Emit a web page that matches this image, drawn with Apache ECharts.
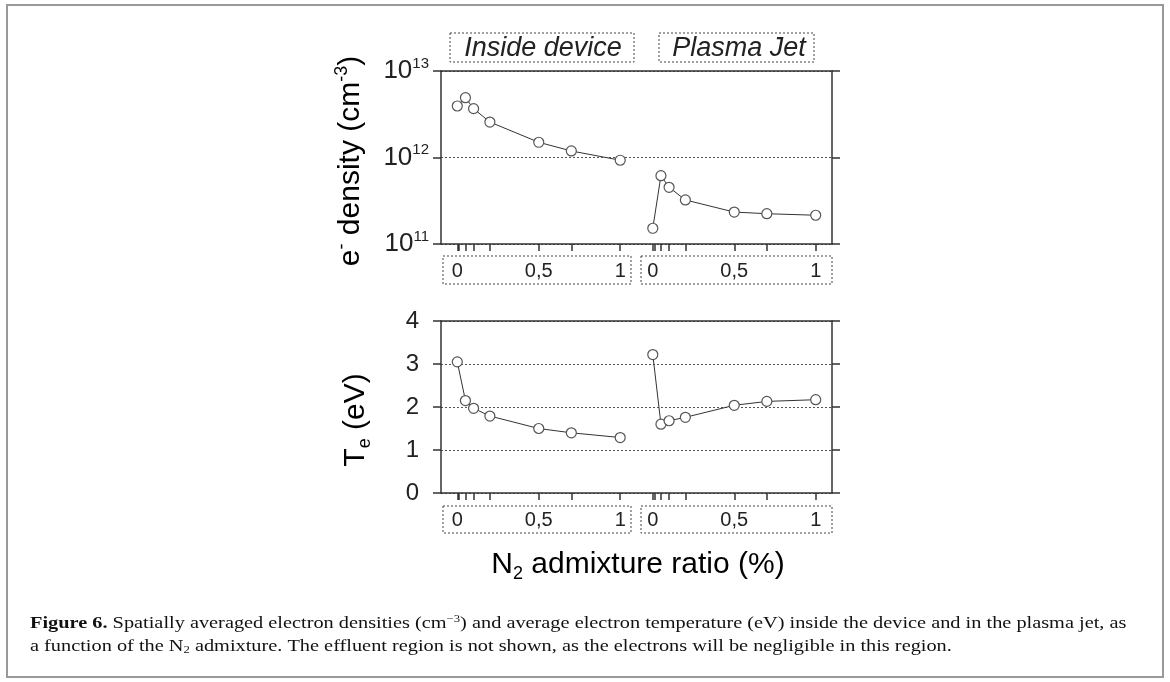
<!DOCTYPE html>
<html><head><meta charset="utf-8">
<script src="https://cdn.jsdelivr.net/npm/echarts@6/dist/echarts.min.js"></script>
<style>html,body{margin:0;padding:0;background:#fff}#c{width:1170px;height:682px}</style>
</head><body><div id="c"></div>
<script>
// ---- data ----
const xRatio = [0, 0.05, 0.1, 0.2, 0.5, 0.7, 1];
const densityInside = [3.94e12, 4.91e12, 3.67e12, 2.57e12, 1.50e12, 1.19e12, 0.93e12];
const densityJet = [1.52e11, 6.16e11, 4.52e11, 3.23e11, 2.34e11, 2.24e11, 2.15e11];
const teInside = [3.05, 2.15, 1.97, 1.79, 1.50, 1.40, 1.29];
const teJet = [3.22, 1.60, 1.68, 1.76, 2.04, 2.13, 2.17];
const xTickValues = [0, 0.01, 0.05, 0.1, 0.2, 0.5, 0.7, 1];
const xLabelValues = [0, 0.5, 1];
const densityTicks = [1e11, 1e12, 1e13];
const teTicks = [0, 1, 2, 3, 4];
const regionNames = ['Inside device', 'Plasma Jet'];

// ---- helpers ----
const SANS = '"Liberation Sans", Arial, sans-serif';
const SERIF = '"Liberation Serif", serif';
const AX = '#333';
const pairs = (xs, ys) => xs.map((x, i) => [x, ys[i]]);
const fmtX = v => String(v).replace('.', ',');

function xAxes(grid, minA, maxA, minB, maxB, margin) {
  const base = {
    gridIndex: grid, type: 'value', position: 'bottom',
    splitLine: { show: false },
    axisLine: { onZero: false, lineStyle: { color: AX, width: 1.5 } },
    axisTick: { show: true, inside: false, length: 7, customValues: xTickValues, lineStyle: { color: AX, width: 1.5 } },
    axisLabel: { show: true, customValues: xLabelValues, formatter: fmtX, margin: margin,
      fontFamily: SANS, fontSize: 20, color: '#222' }
  };
  return [
    Object.assign({}, base, { min: minA, max: maxA }),
    Object.assign({}, base, { min: minB, max: maxB, axisLine: { show: false, onZero: false } }),
    { gridIndex: grid, type: 'value', position: 'top', min: 0, max: 1,
      axisLine: { onZero: false, lineStyle: { color: AX, width: 1.5 } },
      axisTick: { show: false }, axisLabel: { show: false }, splitLine: { show: false } }
  ];
}

const ySplit = { show: true, lineStyle: { color: '#555', width: 1, type: [2, 2] } };

const option = {
  animation: false,
  backgroundColor: '#fff',
  grid: [
    { left: 441, top: 71, width: 391, height: 173 },
    { left: 441, top: 321, width: 391, height: 172 }
  ],
  xAxis: [
    ...xAxes(0, -0.1, 2.3, -1.3, 1.1, 17),
    ...xAxes(1, -0.1, 2.3, -1.3, 1.1, 17)
  ],
  yAxis: [
    { gridIndex: 0, type: 'log', logBase: 10, min: densityTicks[0], max: densityTicks[densityTicks.length - 1],
      position: 'left',
      axisLine: { show: true, onZero: false, lineStyle: { color: AX, width: 1.5 } },
      axisTick: { show: true, length: 8, lineStyle: { color: AX, width: 1.5 } },
      minorTick: { show: false },
      splitLine: ySplit,
      axisLabel: { margin: 12, fontFamily: SANS, color: '#222',
        formatter: v => '{b|10}{s|' + Math.round(Math.log10(v)) + '}',
        rich: { b: { fontSize: 26, fontFamily: SANS, color: '#222', lineHeight: 30 },
                s: { fontSize: 15, fontFamily: SANS, color: '#222', lineHeight: 15, verticalAlign: 'top' } } } },
    { gridIndex: 0, type: 'log', logBase: 10, min: densityTicks[0], max: densityTicks[densityTicks.length - 1],
      position: 'right',
      axisLine: { show: true, onZero: false, lineStyle: { color: AX, width: 1.5 } },
      axisTick: { show: true, length: 8, lineStyle: { color: AX, width: 1.5 } },
      splitLine: { show: false }, axisLabel: { show: false } },
    { gridIndex: 1, type: 'value', min: teTicks[0], max: teTicks[teTicks.length - 1], interval: 1,
      position: 'left',
      axisLine: { show: true, onZero: false, lineStyle: { color: AX, width: 1.5 } },
      axisTick: { show: true, length: 8, lineStyle: { color: AX, width: 1.5 } },
      splitLine: ySplit,
      axisLabel: { margin: 22, fontFamily: SANS, fontSize: 24, color: '#222' } },
    { gridIndex: 1, type: 'value', min: teTicks[0], max: teTicks[teTicks.length - 1], interval: 1,
      position: 'right',
      axisLine: { show: true, onZero: false, lineStyle: { color: AX, width: 1.5 } },
      axisTick: { show: true, length: 8, lineStyle: { color: AX, width: 1.5 } },
      splitLine: { show: false }, axisLabel: { show: false } }
  ],
  series: [
    [0, 0, densityInside], [1, 0, densityJet], [3, 2, teInside], [4, 2, teJet]
  ].map(([xi, yi, ys]) => ({
    type: 'line', xAxisIndex: xi, yAxisIndex: yi, data: pairs(xRatio, ys),
    symbol: 'circle', symbolSize: 10, showSymbol: true,
    lineStyle: { color: '#333', width: 1 },
    itemStyle: { color: '#fff', borderColor: '#555', borderWidth: 1.2 },
    z: 3
  })),
  graphic: [
    // outer frame
    { type: 'rect', shape: { x: 7, y: 5, width: 1156, height: 672 },
      style: { fill: 'none', stroke: '#999', lineWidth: 2 }, silent: true },
    // region title boxes
    { type: 'rect', shape: { x: 450, y: 33, width: 184, height: 29 },
      style: { fill: 'none', stroke: '#444', lineWidth: 1, lineDash: [2, 2] } },
    { type: 'text', x: 543, y: 48, style: { text: regionNames[0], font: 'italic 27px ' + SANS,
      fill: '#222', align: 'center', verticalAlign: 'middle' } },
    { type: 'rect', shape: { x: 659, y: 33, width: 155, height: 29 },
      style: { fill: 'none', stroke: '#444', lineWidth: 1, lineDash: [2, 2] } },
    { type: 'text', x: 739, y: 48, style: { text: regionNames[1], font: 'italic 27px ' + SANS,
      fill: '#222', align: 'center', verticalAlign: 'middle' } },
    // tick label boxes
    { type: 'rect', shape: { x: 443, y: 256, width: 188, height: 28 },
      style: { fill: 'none', stroke: '#444', lineWidth: 1, lineDash: [2, 2] } },
    { type: 'rect', shape: { x: 641, y: 256, width: 191, height: 28 },
      style: { fill: 'none', stroke: '#444', lineWidth: 1, lineDash: [2, 2] } },
    { type: 'rect', shape: { x: 443, y: 506, width: 188, height: 27 },
      style: { fill: 'none', stroke: '#444', lineWidth: 1, lineDash: [2, 2] } },
    { type: 'rect', shape: { x: 641, y: 506, width: 191, height: 27 },
      style: { fill: 'none', stroke: '#444', lineWidth: 1, lineDash: [2, 2] } },
    // y titles
    { type: 'text', x: 351, y: 161, rotation: Math.PI / 2,
      style: { text: '{n|e}{s|-}{n| density (cm}{s|-3}{n|)}', align: 'center', verticalAlign: 'middle',
        rich: { n: { fontSize: 30, fontFamily: SANS, color: '#222', lineHeight: 36 },
                s: { fontSize: 18, fontFamily: SANS, color: '#222', lineHeight: 18, verticalAlign: 'top' } } } },
    { type: 'text', x: 356, y: 420, rotation: Math.PI / 2,
      style: { text: '{n|T}{u|e}{n| (eV)}', align: 'center', verticalAlign: 'middle',
        rich: { n: { fontSize: 30, fontFamily: SANS, color: '#222', lineHeight: 36 },
                u: { fontSize: 18, fontFamily: SANS, color: '#222', lineHeight: 18, verticalAlign: 'bottom' } } } },
    // x title
    { type: 'text', x: 638, y: 565,
      style: { text: '{n|N}{u|2}{n| admixture ratio (%)}', align: 'center', verticalAlign: 'middle',
        rich: { n: { fontSize: 30, fontFamily: SANS, color: '#222', lineHeight: 36 },
                u: { fontSize: 18, fontFamily: SANS, color: '#222', lineHeight: 18, verticalAlign: 'bottom' } } } },
    // caption
    { type: 'text', x: 30, y: 624, scaleX: 1.27,
      style: { text: '{b|Figure 6.} Spatially averaged electron densities (cm{s|−3}) and average electron temperature (eV) inside the device and in the plasma jet, as',
        font: '16px ' + SERIF, fill: '#111', verticalAlign: 'middle',
        rich: { b: { fontWeight: 'bold', fontSize: 16, fontFamily: SERIF, color: '#111', lineHeight: 20 },
                s: { fontSize: 10, fontFamily: SERIF, color: '#111', lineHeight: 10, verticalAlign: 'top' } } } },
    { type: 'text', x: 30, y: 647, scaleX: 1.27,
      style: { text: 'a function of the N{u|2} admixture. The effluent region is not shown, as the electrons will be negligible in this region.',
        font: '16px ' + SERIF, fill: '#111', verticalAlign: 'middle',
        rich: { u: { fontSize: 10, fontFamily: SERIF, color: '#111', lineHeight: 10, verticalAlign: 'bottom' } } } }
  ]
};

const chart = echarts.init(document.getElementById('c'), null, { renderer: 'canvas' });
chart.setOption(option);
</script>
</body></html>
